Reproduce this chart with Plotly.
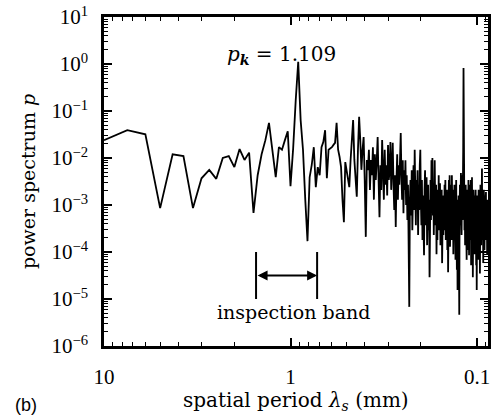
import math
import plotly.graph_objects as go

# ---- data -------------------------------------------------------------
record_length_mm = 30.0          # spectrum lines at lambda = L / k
first_harmonic = 3

# power spectrum values, harmonic k = 3, 4, 5, ...
power = [
    2.4e-2, 3.9e-2, 3.2e-2, 8.6e-4, 1.2e-2, 1.1e-2, 8.6e-4, 3.7e-3, 5.6e-3, 3.6e-3,
    1.0e-2, 1.1e-2, 6.4e-3, 1.55e-2, 9.1e-3, 1.3e-2, 6.8e-4, 4.3e-3, 1.2e-2, 2.4e-2,
    5.6e-2, 1.5e-2, 3.9e-3, 1.7e-2, 1.5e-2, 2.4e-2, 3.7e-2, 2.5e-3, 1.6e-2, 1.7e-1,
    1.109, 6.4e-2, 1.5e-2, 1.3e-3, 1.7e-4, 3.9e-3, 7.1e-3, 1.7e-2, 2.4e-3, 6.4e-3,
    4.3e-3, 1.7e-2, 2.2e-2, 3.9e-2, 3.7e-3, 1.5e-2, 1.6e-2, 1.7e-2, 1.9e-2, 2.1e-2,
    5.6e-2, 1.5e-2, 1.05e-2, 6.4e-3, 1.3e-3, 4.3e-4, 8.2e-3, 5.6e-3, 3.7e-3, 2.4e-3,
    9.1e-3, 2.4e-2, 6.4e-2, 9.1e-3, 4.3e-3, 1.5e-3, 1.5e-2, 7.5e-2, 2.4e-2, 5.6e-3,
    1.5e-2, 2.8e-2, 3.4e-3, 2.1e-4, 9.1e-3, 5.5e-3, 1.5e-2, 2.1e-3, 9e-3, 4.3e-3,
    1.7e-2, 1.3e-3, 1.2e-2, 3.4e-3, 9e-3, 2.8e-2, 3.4e-3, 5.5e-4, 7e-3, 2.1e-3,
    2.4e-2, 4.3e-3, 1.3e-3, 1.5e-2, 2.7e-3, 7e-3, 1.6e-3, 1.9e-2, 3.4e-3, 5.5e-3,
    2.2e-2, 2.1e-3, 9e-3, 2.1e-2, 2.7e-3, 7.8e-4, 4.3e-3, 3.4e-4, 3.4e-3, 1.2e-2,
    1.3e-3, 7e-3, 2.7e-3, 1.5e-2, 3.4e-2, 4.3e-3, 1.3e-3, 9e-3, 6.7e-4, 5.5e-3,
    2.1e-3, 9e-3, 1e-3, 4.3e-3, 4.8e-4, 2.7e-3, 1.8e-4, 6.8e-6, 1.3e-3, 3.4e-3,
    6e-4, 5.5e-3, 2.9e-4, 2.1e-3, 7e-3, 7.8e-4, 1.5e-2, 2.1e-3, 3.7e-4, 3.4e-3,
    1.3e-3, 5.5e-3, 2.3e-4, 2.7e-3, 7.8e-4, 7e-3, 1.5e-2, 1.3e-3, 3.7e-4, 3.4e-3,
    1.8e-4, 1.6e-3, 6e-4, 8.5e-5, 2.1e-3, 5.5e-3, 3.7e-4, 1.3e-3, 3.9e-3, 1.4e-4,
    1e-3, 2.7e-3, 2.9e-4, 1.3e-3, 2.9e-5, 7.8e-4, 3.4e-3, 4.8e-4, 9e-3, 1.3e-3,
    1e-2, 6e-4, 2.1e-3, 2.3e-4, 3.4e-3, 9e-3, 1e-3, 3.7e-4, 2.7e-3, 9e-5,
    1.3e-3, 1.8e-4, 2.1e-3, 6e-4, 4.3e-3, 2.9e-4, 1.3e-3, 2.9e-3, 1.4e-4, 1e-3,
    4.8e-4, 2.1e-3, 5.8e-5, 7.8e-4, 1.6e-3, 2.3e-4, 1.3e-3, 2.9e-4, 2.7e-3, 6e-4,
    3.4e-3, 1.8e-4, 1.6e-3, 3.7e-4, 2.1e-3, 1.1e-4, 1e-3, 3.7e-5, 1.3e-3, 3.4e-3,
    3.7e-4, 4.3e-3, 1.3e-4, 1.6e-3, 4.8e-4, 2.7e-3, 1.8e-4, 4.3e-3, 1e-3, 2.9e-4,
    2.1e-3, 9e-5, 1.3e-3, 6e-4, 2.7e-3, 2.3e-4, 1.6e-3, 6.8e-5, 1e-3, 3.4e-3,
    3.7e-4, 4.2e-5, 7.8e-4, 1.55e-5, 1.3e-3, 2.9e-4, 1.6e-3, 1.4e-4, 4.6e-6, 7.8e-4,
    2.7e-3, 3.7e-4, 2.1e-3, 4.8e-3, 6e-4, 2.3e-4, 1.6e-3, 4.3e-3, 4.8e-4, 1.3e-3,
    1.5e-2, 0.82, 9e-3, 7.8e-4, 2.9e-4, 1.6e-3, 1.4e-4, 1.3e-3, 2.7e-3, 2.3e-4,
    1e-3, 6.8e-5, 6e-4, 2.1e-3, 1.1e-4, 1.3e-3, 2.9e-4, 3.4e-3, 4.8e-4, 8.5e-5,
    1.3e-3, 2.7e-3, 1.8e-4, 1.6e-3, 3.7e-4, 3.4e-3, 5.2e-5, 1e-3, 6e-4, 3.9e-3,
    2.3e-4, 1.3e-3, 2.9e-5, 7.8e-4, 2.1e-3, 1.4e-4, 1.3e-3, 3.7e-4, 1.6e-3, 9e-5,
    1e-3, 2.9e-4, 2.1e-3, 6e-4, 5.2e-5, 1.3e-3, 1.55e-5, 4.8e-4, 1.6e-3, 1.8e-4,
    1e-3, 6.8e-5, 7.8e-4, 2.1e-3, 2.3e-4, 1.3e-3, 1.1e-4, 6e-4, 3.5e-5, 1e-3,
    2.7e-3, 2.9e-4, 1.3e-3, 1.4e-4, 7.8e-4, 4.3e-3, 6e-3, 4.8e-4, 1.6e-3, 1.8e-4,
    1e-3, 5.8e-5, 7.8e-4, 2.1e-3, 2.3e-4, 1.3e-3, 1.1e-4, 6e-4, 1.6e-3, 1.4e-4,
    1e-3, 3.7e-4, 1.9e-3, 1.8e-4, 1.3e-3, 2.9e-4, 7.8e-4, 9e-5, 1e-3, 4.8e-4,
    1.3e-3, 2.3e-4, 7.8e-4,
]
harmonics = list(range(first_harmonic, first_harmonic + len(power)))
period_mm = [record_length_mm / k for k in harmonics]

peak_text = "<i>p</i><sub><b><i>k</i></b></sub> = 1.109"
band_limits_mm = [1.53, 0.72]
band_power = [1e-5, 1e-4]
arrow_power = 10 ** -4.5
band_text = "inspection band"
band_text_period = 0.965
band_text_power = 10 ** -5.28

x_tick_vals = [10, 1, 0.1]
x_tick_text = ["10", "1", "0.1"]
y_tick_vals = [1e-6, 1e-5, 1e-4, 1e-3, 1e-2, 1e-1, 1e0, 1e1]
y_tick_text = ["10<sup>−6</sup>", "10<sup>−5</sup>", "10<sup>−4</sup>", "10<sup>−3</sup>",
               "10<sup>−2</sup>", "10<sup>−1</sup>", "10<sup>0</sup>", "10<sup>1</sup>"]
x_title = "spatial period <i>λ</i><sub><i>s</i></sub> (mm)"
y_title = "power spectrum <i>p</i>"
panel_label = "(b)"

# ---- figure -----------------------------------------------------------
SERIF = "DejaVu Serif"
TICK_SERIF = "Liberation Serif"
minor_x = [m * 10 ** d for d in range(-2, 1) for m in range(2, 10)]
minor_y = [m * 10 ** d for d in range(-6, 1) for m in range(2, 10)]

fig = go.Figure()
fig.add_trace(go.Scatter(x=period_mm, y=power, mode="lines",
                         line=dict(color="black", width=1.8), hoverinfo="skip"))
fig.add_trace(go.Scatter(
    x=[band_limits_mm[0], band_limits_mm[0], None, band_limits_mm[1], band_limits_mm[1]],
    y=[band_power[0], band_power[1], None, band_power[0], band_power[1]],
    mode="lines", line=dict(color="black", width=2), hoverinfo="skip"))

axis_common = dict(
    type="log", showline=True, linewidth=2.5, linecolor="black", mirror="allticks",
    ticks="inside", ticklen=8, tickwidth=1.5, tickcolor="black",
    showgrid=False, zeroline=False, tickmode="array", ticklabeloverflow="allow",
    tickfont=dict(family=TICK_SERIF, size=21, color="black"),
)
fig.update_xaxes(**axis_common, range=[1, math.log10(0.0873)],
                 tickvals=x_tick_vals, ticktext=x_tick_text, ticklabelstandoff=10,
                 minor=dict(tickmode="array", tickvals=minor_x, ticks="inside",
                            ticklen=4, tickwidth=1.3, tickcolor="black", showgrid=False))
fig.update_yaxes(**axis_common, range=[-6, 1],
                 tickvals=y_tick_vals, ticktext=y_tick_text, ticklabelstandoff=9,
                 minor=dict(tickmode="array", tickvals=minor_y, ticks="inside",
                            ticklen=4, tickwidth=1.3, tickcolor="black", showgrid=False))

lg = math.log10
fig.add_annotation(x=lg(band_limits_mm[1]), y=lg(arrow_power),
                   ax=lg(band_limits_mm[0]), ay=lg(arrow_power),
                   xref="x", yref="y", axref="x", ayref="y", text="",
                   showarrow=True, arrowside="end+start", arrowhead=2, arrowsize=1,
                   arrowwidth=2, arrowcolor="black", standoff=0, startstandoff=0)
fig.add_annotation(x=lg(band_text_period), y=lg(band_text_power), xref="x", yref="y",
                   text=band_text, showarrow=False,
                   font=dict(family=SERIF, size=19, color="black"))
fig.add_annotation(x=0.4625, y=0.93, xref="paper", yref="paper", text=peak_text,
                   showarrow=False, font=dict(family=SERIF, size=20, color="black"))
fig.add_annotation(x=0.5, y=-0.168, xref="paper", yref="paper", text=x_title,
                   showarrow=False, yanchor="middle",
                   font=dict(family=SERIF, size=20, color="black"))
fig.add_annotation(x=-0.199, y=0.5, xref="paper", yref="paper", text=y_title,
                   showarrow=False, textangle=-90, xanchor="center", yanchor="middle",
                   font=dict(family=SERIF, size=19, color="black"))
fig.add_annotation(x=-0.204, y=-0.179, xref="paper", yref="paper", text=panel_label,
                   showarrow=False, xanchor="center", yanchor="middle",
                   font=dict(family="Liberation Sans", size=18, color="black"))

fig.update_layout(width=494, height=418, margin=dict(l=104, r=3, t=17, b=72),
                  paper_bgcolor="white", plot_bgcolor="white", showlegend=False,
                  font=dict(family=SERIF, size=19, color="black"))

# remove the default 8 px page margin so the figure fills the window exactly
fig.write_html("out.html", config={"displayModeBar": False},
               post_script="document.body.style.margin='0';")
